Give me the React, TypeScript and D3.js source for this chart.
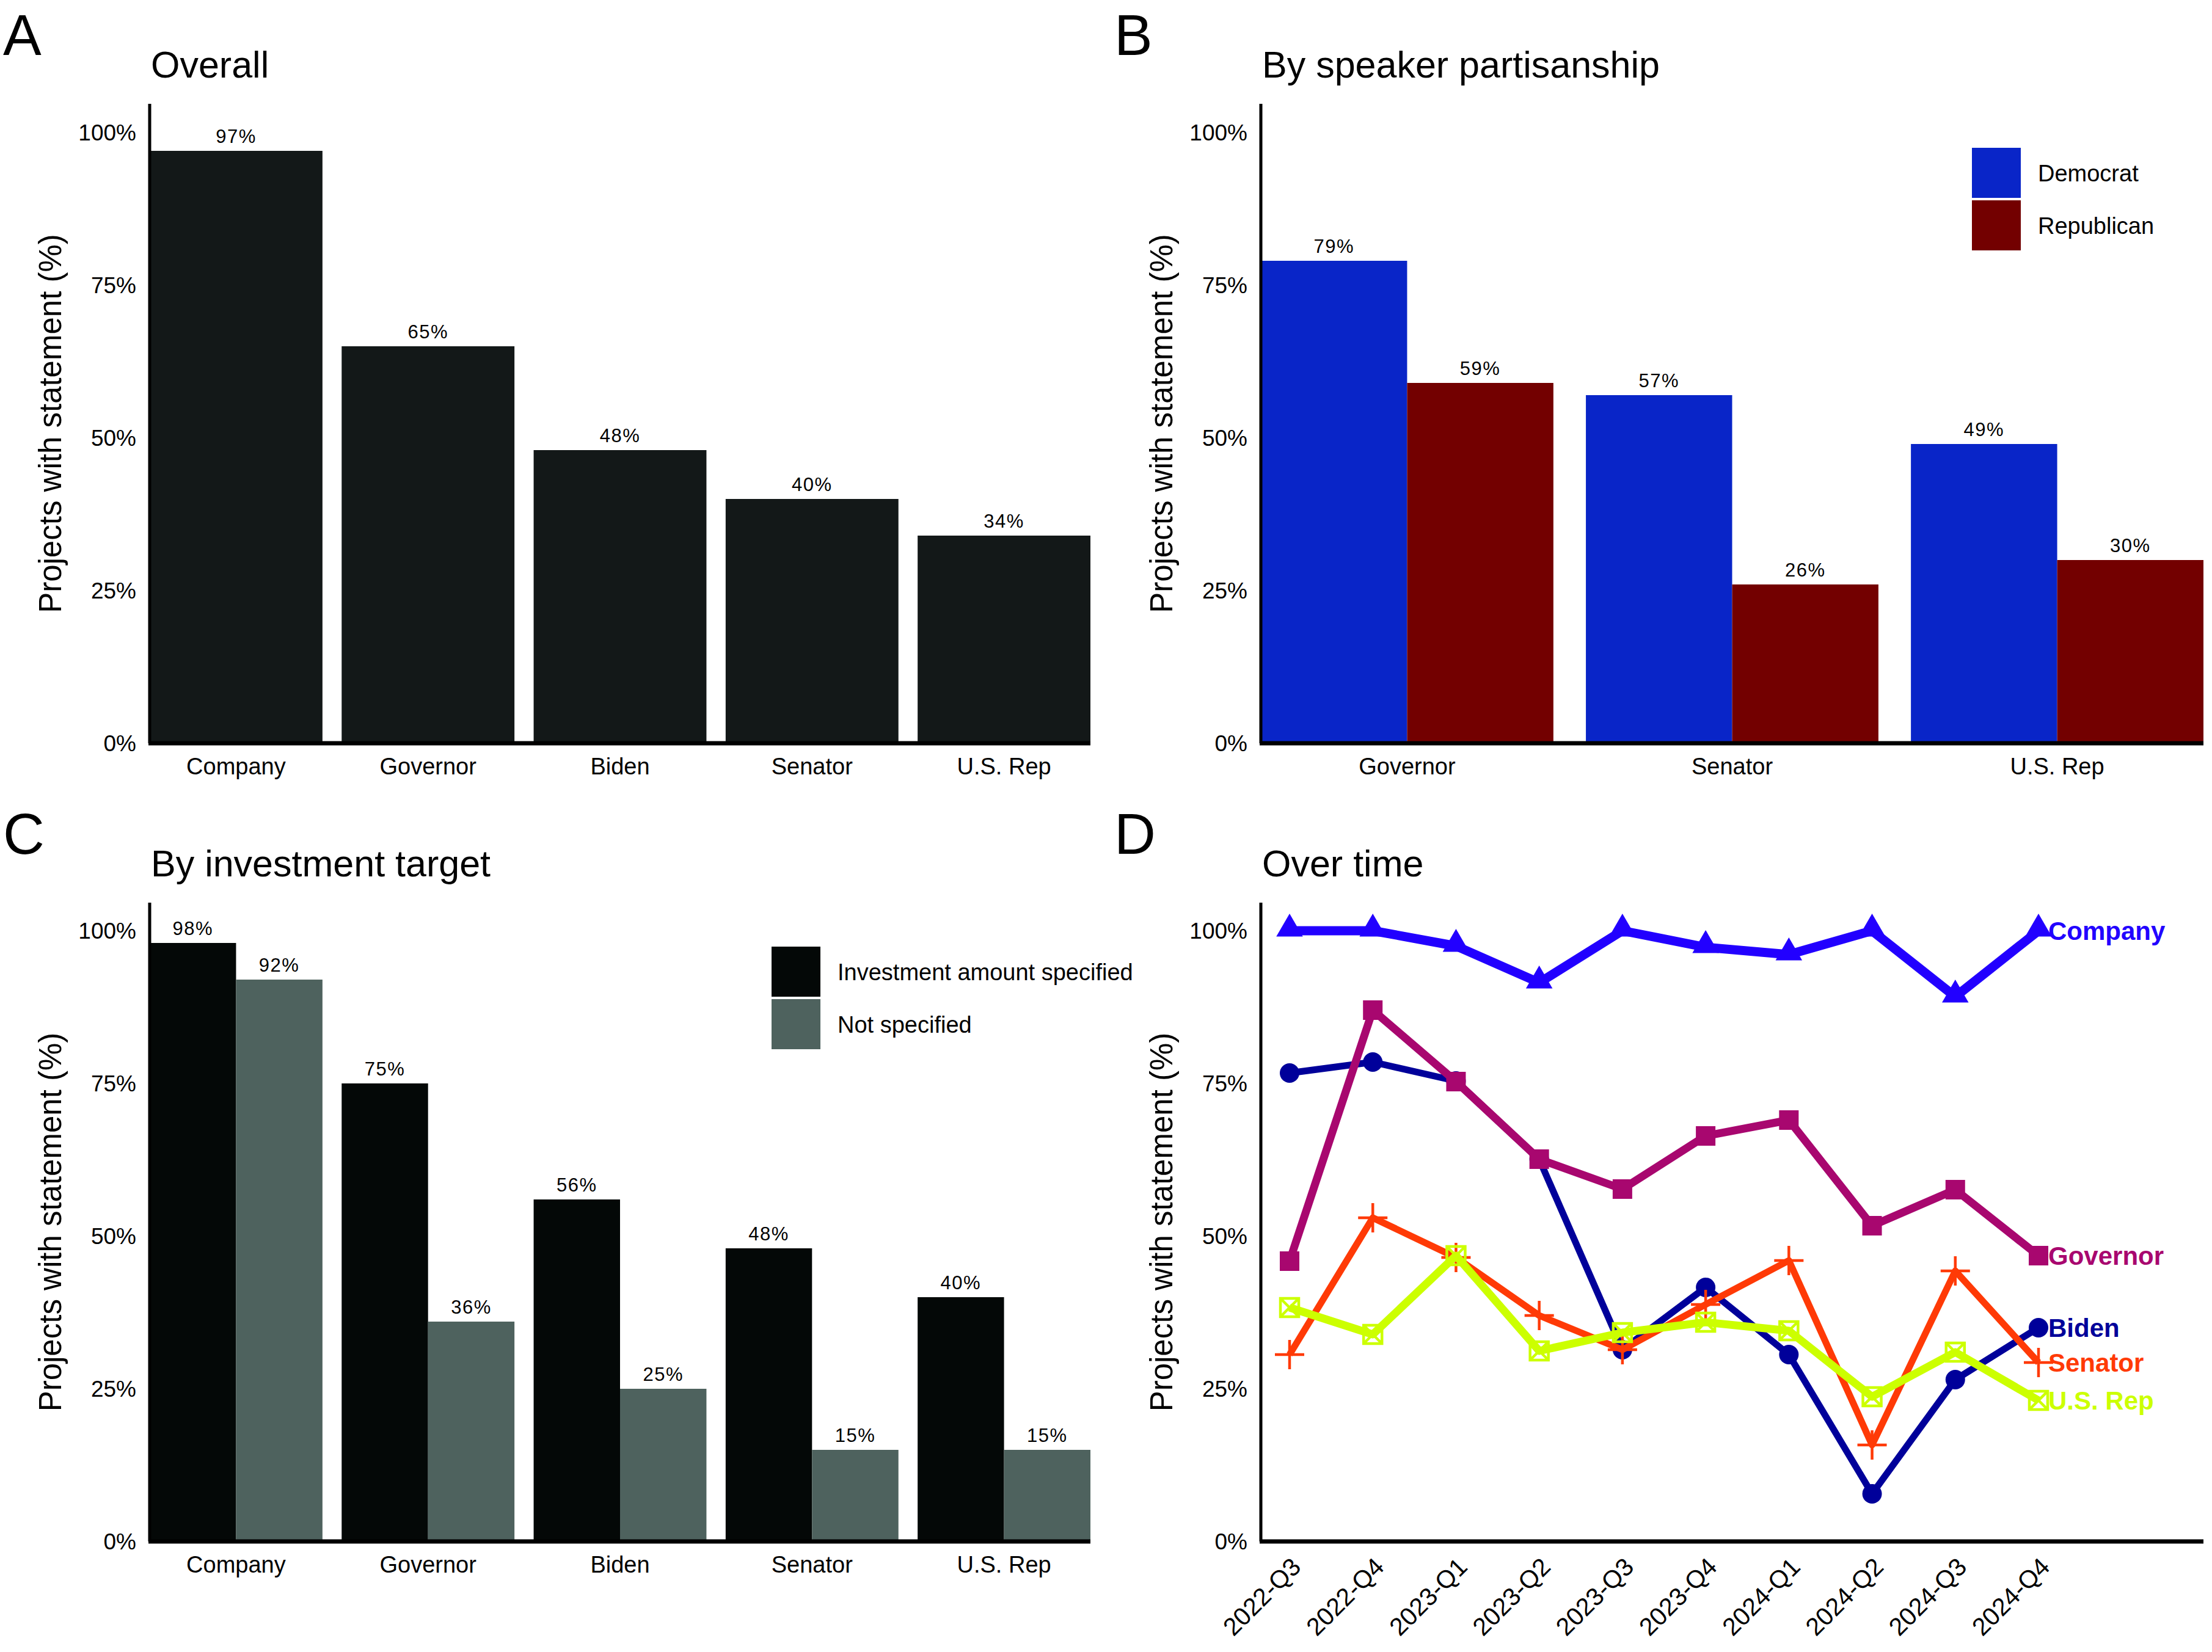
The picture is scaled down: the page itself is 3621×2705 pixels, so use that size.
import React from "react";
import * as d3 from "d3";

// ---- data ----
const overallCategories = ["Company", "Governor", "Biden", "Senator", "U.S. Rep"];
const overallValues = [97, 65, 48, 40, 34];

const partyCategories = ["Governor", "Senator", "U.S. Rep"];
const partyGroups = ["Democrat", "Republican"];
const democratValues = [79, 57, 49];
const republicanValues = [59, 26, 30];

const targetCategories = ["Company", "Governor", "Biden", "Senator", "U.S. Rep"];
const targetGroups = ["Investment amount specified", "Not specified"];
const specifiedValues = [98, 75, 56, 48, 40];
const notSpecifiedValues = [92, 36, 25, 15, 15];

const quarters = [
  "2022-Q3", "2022-Q4", "2023-Q1", "2023-Q2", "2023-Q3",
  "2023-Q4", "2024-Q1", "2024-Q2", "2024-Q3", "2024-Q4",
];
const companySeries = [100, 100, 97.5, 91.5, 100, 97.3, 96.1, 100, 89.2, 100];
const governorSeries = [45.9, 87.0, 75.3, 62.6, 57.7, 66.4, 69.0, 51.7, 57.6, 46.8];
const bidenSeries = [76.7, 78.5, 75.4, 62.6, 31.4, 41.6, 30.6, 7.8, 26.5, 35.0];
const senatorSeries = [30.6, 53.0, 46.5, 37.0, 31.4, 38.8, 46.0, 15.8, 44.3, 29.3];
const repSeries = [38.3, 33.9, 46.8, 31.2, 34.2, 35.9, 34.5, 23.7, 31.0, 23.1];

const yTicks = [0, 25, 50, 75, 100];

// ---- styling ----
const SANS = "'Liberation Sans', Arial, sans-serif";
const W = 3621;
const H = 2705;

const COLORS = {
  overall: "#131818",
  dem: "#0925C8",
  rep: "#730000",
  specified: "#040807",
  notSpecified: "#4E625E",
};

const LINE_STYLES: Record<string, { color: string; width: number; shape: string }> = {
  Biden: { color: "#00009A", width: 11, shape: "circle" },
  Senator: { color: "#FF3A06", width: 11, shape: "plus" },
  "U.S. Rep": { color: "#CCFF00", width: 13, shape: "squareX" },
  Governor: { color: "#A8076F", width: 13, shape: "square" },
  Company: { color: "#2200FF", width: 15, shape: "triangle" },
};

type Frame = {
  left: number;
  right: number;
  axisTop: number;
  y0: number;
  y100: number;
};

const frameA: Frame = { left: 245, right: 1785, axisTop: 170, y0: 1217, y100: 217 };
const frameB: Frame = { left: 2064, right: 3607, axisTop: 170, y0: 1217, y100: 217 };
const frameC: Frame = { left: 245, right: 1785, axisTop: 1478, y0: 2524, y100: 1524 };
const frameD: Frame = { left: 2064, right: 3607, axisTop: 1478, y0: 2524, y100: 1524 };

function yScale(f: Frame) {
  return d3.scaleLinear().domain([0, 100]).range([f.y0, f.y100]);
}

function Axes({ f, letter, title }: { f: Frame; letter: string; title: string }) {
  const y = yScale(f);
  const mid = (f.axisTop + f.y0) / 2;
  return (
    <g>
      <text x={f.left - 240} y={f.axisTop - 80} fontFamily={SANS} fontSize={94}>
        {letter}
      </text>
      <text x={f.left + 2} y={f.axisTop - 43} fontFamily={SANS} fontSize={61}>
        {title}
      </text>
      {yTicks.map((t) => (
        <text
          key={t}
          x={f.left - 22}
          y={y(t)}
          dy="0.36em"
          textAnchor="end"
          fontFamily={SANS}
          fontSize={37}
        >
          {t}%
        </text>
      ))}
      <text
        transform={`translate(${f.left - 145},${mid}) rotate(-90)`}
        textAnchor="middle"
        fontFamily={SANS}
        fontSize={51}
      >
        Projects with statement (%)
      </text>
      <line x1={f.left} x2={f.left} y1={f.axisTop} y2={f.y0} stroke="#000" strokeWidth={5} />
      <line x1={f.left - 2} x2={f.right} y1={f.y0} y2={f.y0} stroke="#000" strokeWidth={7} />
    </g>
  );
}

function CategoryLabels({ f, cats, x }: { f: Frame; cats: string[]; x: d3.ScaleBand<string> }) {
  return (
    <g>
      {cats.map((c) => (
        <text
          key={c}
          x={(x(c) ?? 0) + x.bandwidth() / 2}
          y={f.y0 + 51}
          textAnchor="middle"
          fontFamily={SANS}
          fontSize={38}
        >
          {c}
        </text>
      ))}
    </g>
  );
}

function ValueLabel({ x, y, v }: { x: number; y: number; v: number }) {
  return (
    <text
      x={x}
      y={y - 13}
      textAnchor="middle"
      fontFamily={SANS}
      fontSize={31}
      letterSpacing={1.5}
    >
      {v}%
    </text>
  );
}

function PanelA() {
  const f = frameA;
  const x = d3.scaleBand<string>().domain(overallCategories).range([f.left, f.right]).paddingInner(0.1).paddingOuter(0);
  const y = yScale(f);
  return (
    <g>
      {overallCategories.map((c, i) => (
        <g key={c}>
          <rect x={x(c)} y={y(overallValues[i])} width={x.bandwidth()} height={f.y0 - y(overallValues[i])} fill={COLORS.overall} />
          <ValueLabel x={(x(c) ?? 0) + x.bandwidth() / 2} y={y(overallValues[i])} v={overallValues[i]} />
        </g>
      ))}
      <Axes f={f} letter="A" title="Overall" />
      <CategoryLabels f={f} cats={overallCategories} x={x} />
    </g>
  );
}

function Legend({ x, y, labels, colors }: { x: number; y: number; labels: string[]; colors: string[] }) {
  const h = 82;
  return (
    <g>
      {labels.map((l, i) => (
        <g key={l}>
          <rect x={x} y={y + i * (h + 4)} width={80} height={h} fill={colors[i]} />
          <text
            x={x + 108}
            y={y + i * (h + 4) + h / 2}
            dy="0.36em"
            fontFamily={SANS}
            fontSize={38}
          >
            {l}
          </text>
        </g>
      ))}
    </g>
  );
}

function GroupedBars({
  f,
  cats,
  groups,
  series,
  colors,
}: {
  f: Frame;
  cats: string[];
  groups: string[];
  series: number[][];
  colors: string[];
}) {
  const x = d3.scaleBand<string>().domain(cats).range([f.left, f.right]).paddingInner(0.1).paddingOuter(0);
  const xs = d3.scaleBand<string>().domain(groups).range([0, x.bandwidth()]).padding(0);
  const y = yScale(f);
  return (
    <g>
      {cats.map((c, i) => (
        <g key={c} transform={`translate(${x(c)},0)`}>
          {groups.map((g, j) => {
            const v = series[j][i];
            return (
              <g key={g}>
                <rect x={xs(g)} y={y(v)} width={xs.bandwidth()} height={f.y0 - y(v)} fill={colors[j]} />
                <ValueLabel x={(xs(g) ?? 0) + xs.bandwidth() / 2} y={y(v)} v={v} />
              </g>
            );
          })}
        </g>
      ))}
      <CategoryLabels f={f} cats={cats} x={x} />
    </g>
  );
}

function PanelB() {
  const f = frameB;
  return (
    <g>
      <GroupedBars
        f={f}
        cats={partyCategories}
        groups={partyGroups}
        series={[democratValues, republicanValues]}
        colors={[COLORS.dem, COLORS.rep]}
      />
      <Axes f={f} letter="B" title="By speaker partisanship" />
      <Legend x={3228} y={242} labels={partyGroups} colors={[COLORS.dem, COLORS.rep]} />
    </g>
  );
}

function PanelC() {
  const f = frameC;
  return (
    <g>
      <GroupedBars
        f={f}
        cats={targetCategories}
        groups={targetGroups}
        series={[specifiedValues, notSpecifiedValues]}
        colors={[COLORS.specified, COLORS.notSpecified]}
      />
      <Axes f={f} letter="C" title="By investment target" />
      <Legend x={1263} y={1550} labels={targetGroups} colors={[COLORS.specified, COLORS.notSpecified]} />
    </g>
  );
}

function Marker({ shape, x, y, color }: { shape: string; x: number; y: number; color: string }) {
  if (shape === "circle") return <circle cx={x} cy={y} r={16} fill={color} />;
  if (shape === "square") return <rect x={x - 16} y={y - 16} width={32} height={32} fill={color} />;
  if (shape === "triangle") {
    const p = d3.symbol().type(d3.symbolTriangle).size(820)();
    return <path d={p ?? ""} transform={`translate(${x},${y - 3})`} fill={color} />;
  }
  if (shape === "plus")
    return (
      <g stroke={color} strokeWidth={4.5}>
        <line x1={x - 24} x2={x + 24} y1={y} y2={y} />
        <line x1={x} x2={x} y1={y - 24} y2={y + 24} />
      </g>
    );
  return (
    <g stroke={color} strokeWidth={4.5} fill="none">
      <rect x={x - 15} y={y - 15} width={30} height={30} />
      <line x1={x - 15} x2={x + 15} y1={y - 15} y2={y + 15} />
      <line x1={x - 15} x2={x + 15} y1={y + 15} y2={y - 15} />
    </g>
  );
}

function PanelD() {
  const f = frameD;
  const y = yScale(f);
  const x = d3.scalePoint<string>().domain(quarters).range([2111, 3337]);
  const seriesList: [string, number[]][] = [
    ["Biden", bidenSeries],
    ["Senator", senatorSeries],
    ["U.S. Rep", repSeries],
    ["Governor", governorSeries],
    ["Company", companySeries],
  ];
  const line = d3
    .line<number>()
    .x((_, i) => x(quarters[i]) ?? 0)
    .y((v) => y(v));
  const last = quarters[quarters.length - 1];
  return (
    <g>
      <Axes f={f} letter="D" title="Over time" />
      {quarters.map((q) => (
        <text
          key={q}
          transform={`translate(${(x(q) ?? 0) + 21},${f.y0 + 44}) rotate(-45)`}
          textAnchor="end"
          fontFamily={SANS}
          fontSize={41}
        >
          {q}
        </text>
      ))}
      {seriesList.map(([name, vals]) => {
        const s = LINE_STYLES[name];
        return (
          <g key={name}>
            <path d={line(vals) ?? ""} fill="none" stroke={s.color} strokeWidth={s.width} strokeLinejoin="round" />
            {vals.map((v, i) => (
              <Marker key={i} shape={s.shape} x={x(quarters[i]) ?? 0} y={y(v)} color={s.color} />
            ))}
          </g>
        );
      })}
      {seriesList.map(([name, vals]) => (
        <text
          key={name}
          x={(x(last) ?? 0) + 16}
          y={y(vals[vals.length - 1])}
          dy="0.36em"
          fontFamily={SANS}
          fontWeight="bold"
          fontSize={42}
          fill={LINE_STYLES[name].color}
        >
          {name}
        </text>
      ))}
    </g>
  );
}

export default function App() {
  return (
    <svg
      width={W}
      height={H}
      viewBox={`0 0 ${W} ${H}`}
      style={{ position: "absolute", left: 0, top: 0, background: "#fff" }}
    >
      <rect width={W} height={H} fill="#fff" />
      <PanelA />
      <PanelB />
      <PanelC />
      <PanelD />
    </svg>
  );
}
